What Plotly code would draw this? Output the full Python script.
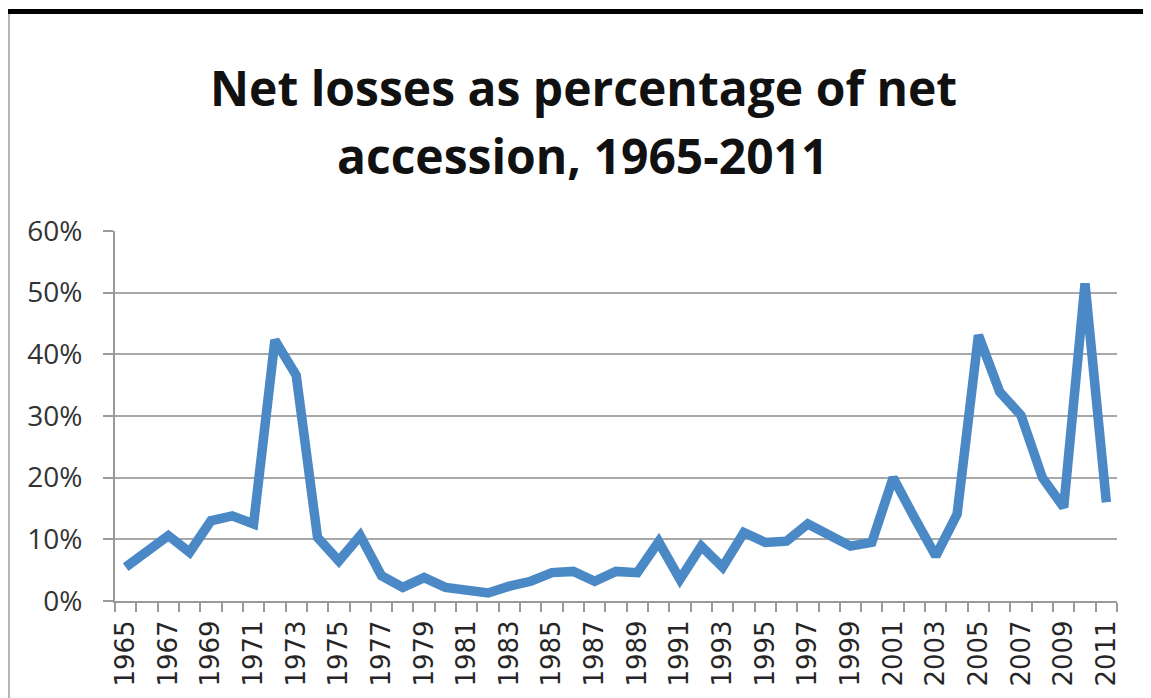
import plotly.graph_objects as go

years = list(range(1965, 2012))
values = [5.5, 7.9, 10.6, 7.9, 13.0, 13.8, 12.5, 42.3, 36.6, 10.3,
          6.5, 10.6, 4.1, 2.2, 3.8, 2.2, 1.7, 1.3, 2.4, 3.2,
          4.6, 4.8, 3.2, 4.8, 4.6, 9.6, 3.5, 8.9, 5.5, 11.1,
          9.5, 9.7, 12.5, 10.6, 8.9, 9.5, 20.0, 13.5, 7.3, 14.1,
          43.1, 33.9, 30.1, 20.0, 15.2, 51.5, 16.0]
title_lines = ["Net losses as percentage of net", "accession, 1965-2011"]
label_years = list(range(1965, 2012, 2))
y_ticks = [0, 10, 20, 30, 40, 50, 60]

# page has an 8px body margin: figure is drawn at (8, 8)
OFF = 8
W, H = 1151 - OFF, 698 - OFF
L, R, T, B = 115 - OFF, 1151 - 1117, 231 - OFF, 698 - 601
pw, ph = W - L - R, H - T - B

def px_x(px):  # page pixel -> paper
    return (px - OFF - L) / pw

def px_y(py):
    return (H - B - (py - OFF)) / ph

fig = go.Figure()
fig.add_trace(go.Scatter(
    x=years, y=values, mode="lines",
    line=dict(color="#4B89C6", width=9.5),
    hoverinfo="x+y",
))

title_font = dict(family="Open Sans", size=48, color="#111111", weight="bold")
annotations = [
    dict(text=title_lines[0], xref="paper", yref="paper", x=px_x(583), y=px_y(87),
         xanchor="center", yanchor="middle", showarrow=False, font=title_font),
    dict(text=title_lines[1], xref="paper", yref="paper", x=px_x(583), y=px_y(155),
         xanchor="center", yanchor="middle", showarrow=False, font=title_font),
]

fig.update_layout(
    width=W, height=H,
    margin=dict(l=L, r=R, t=T, b=B),
    paper_bgcolor="white", plot_bgcolor="white",
    showlegend=False,
    annotations=annotations,
    xaxis=dict(
        range=[1964.5, 2011.5], tickmode="array", tickvals=label_years,
        ticktext=[str(y) for y in label_years], tickangle=-90,
        ticks="", showgrid=False, zeroline=False,
        showline=True, linecolor="#9a9a9a", linewidth=2,
        ticklabelstandoff=7,
        tickfont=dict(family="DejaVu Sans", size=26, color="#262626"),
        minor=dict(tick0=1964.5, dtick=1, ticks="outside", ticklen=9,
                   tickcolor="#9a9a9a", tickwidth=2, showgrid=False),
    ),
    yaxis=dict(
        range=[0, 60], tickmode="array", tickvals=y_ticks,
        ticktext=[f"{v}%" for v in y_ticks],
        showgrid=True, gridcolor="#a8a8a8", gridwidth=2,
        zeroline=False, showline=True, linecolor="#9a9a9a", linewidth=2,
        ticks="outside", ticklen=10, tickcolor="#9a9a9a", tickwidth=2,
        ticklabelstandoff=15,
        tickfont=dict(family="Open Sans", size=28, color="#333333"),
    ),
    shapes=[
        dict(type="line", xref="paper", yref="paper",
             x0=px_x(8), x1=px_x(1151), y0=px_y(11.5), y1=px_y(11.5),
             line=dict(color="black", width=5)),
        dict(type="line", xref="paper", yref="paper",
             x0=px_x(9), x1=px_x(9), y0=px_y(14), y1=px_y(698),
             line=dict(color="#b5b5b5", width=2)),
    ],
)

fig.write_html("out.html")
